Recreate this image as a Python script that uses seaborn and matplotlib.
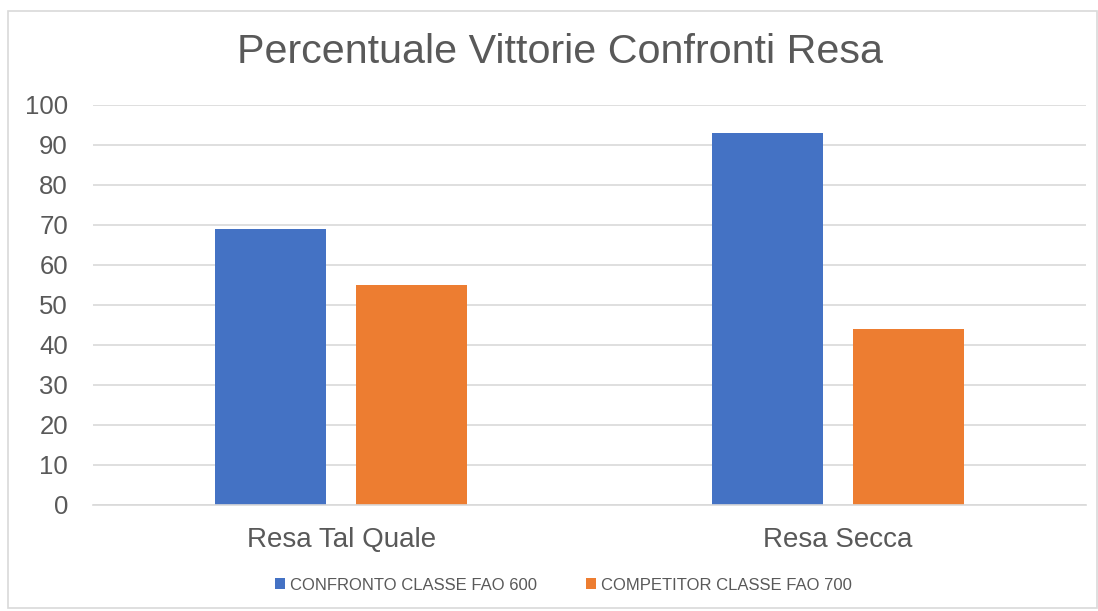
import matplotlib
matplotlib.use("Agg")
import matplotlib.pyplot as plt
import seaborn as sns
import pandas as pd
from matplotlib.patches import Rectangle

categories = ["Resa Tal Quale", "Resa Secca"]
series_names = ["CONFRONTO CLASSE FAO 600", "COMPETITOR CLASSE FAO 700"]
confronto = [69, 93]
competitor = [55, 44]
yticks = list(range(0, 101, 10))
title = "Percentuale Vittorie Confronti Resa"
colors = ["#4472C4", "#ED7D31"]

df = pd.DataFrame({
    "cat": categories * 2,
    "serie": [series_names[0]] * 2 + [series_names[1]] * 2,
    "val": confronto + competitor,
})

sns.set_theme(style="white")
plt.rcParams["font.family"] = ["Liberation Sans", "DejaVu Sans"]

fig = plt.figure(figsize=(10.98, 6.11), dpi=100)
fig.patch.set_facecolor("white")
fig.add_artist(Rectangle((8 / 1098, 0.005), 1 - 8 / 1098 - 0.001, 1 - 11 / 611 - 0.005,
                         transform=fig.transFigure, fill=False,
                         edgecolor="#D9D9D9", linewidth=1.2))

ax = fig.add_axes([93 / 1098, 1 - 505 / 611, (1086 - 93) / 1098, 400 / 611])
sns.barplot(data=df, x="cat", y="val", hue="serie", palette=colors,
            width=0.568, gap=0.213, ax=ax, saturation=1, legend=True,
            edgecolor="none")
ax.set_xlim(-0.5, 1.5)
ax.set_ylim(0, 100)
ax.set_yticks(yticks)
ax.set_yticklabels([str(t) for t in yticks])
ax.yaxis.grid(True, color="#D9D9D9", linewidth=1.2)
ax.set_axisbelow(True)
for s in ["top", "right", "left"]:
    ax.spines[s].set_visible(False)
ax.spines["bottom"].set_color("#D9D9D9")
ax.spines["bottom"].set_linewidth(1.2)
ax.tick_params(axis="y", length=0, pad=18, labelsize=18.5, labelcolor="#595959")
ax.tick_params(axis="x", length=0, pad=16, labelsize=20, labelcolor="#595959")
ax.set_xlabel("")
ax.set_ylabel("")

fig.text(560 / 1098, 1 - 52 / 611, title, fontsize=29.7, color="#595959",
         ha="center", va="center")

handles, labels = ax.get_legend_handles_labels()
ax.legend(handles, labels, loc="center", bbox_to_anchor=(0.5 - 26 / 993, -0.2), ncol=2,
          frameon=False, fontsize=12, labelcolor="#595959", handlelength=0.6,
          handleheight=0.6, handletextpad=0.3, columnspacing=2.9)

fig.savefig("out.png", dpi=100, facecolor="white")
